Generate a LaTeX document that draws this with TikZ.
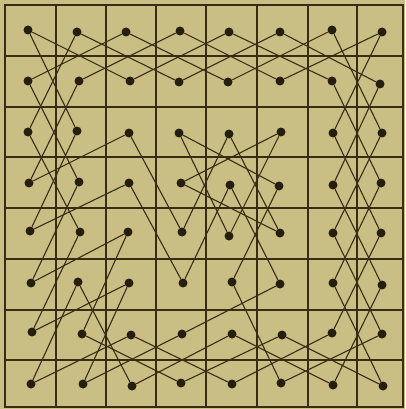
\documentclass[tikz,border=0pt]{standalone}
\usepackage{tikz}
\definecolor{paper}{RGB}{201,191,133}
\definecolor{ink}{RGB}{58,44,20}
\definecolor{peg}{RGB}{38,30,14}
\tikzset{
  peghole/.style={circle,fill=peg,draw=none,inner sep=0pt,minimum size=9pt},
  gridline/.style={draw=ink,line width=1.7pt},
  borderline/.style={draw=ink,line width=2.6pt},
  move/.style={draw=ink,line width=1.1pt}
}
\begin{document}
\begin{tikzpicture}[x=1pt,y=-1pt]
\fill[paper] (0,0) rectangle (405,409);
\useasboundingbox (0,0) rectangle (405,409);
% grid
\foreach \gx in {56,106,156,206,257,308,357}{\draw[gridline] (\gx,5) -- (\gx,407);}
\foreach \gy in {56,107,157,208,259,310,360}{\draw[gridline] (5,\gy) -- (403,\gy);}
\draw[borderline] (5,5) rectangle (403,407);
% pegs (row, column)
\node[peghole] (n11) at (28,30) {};
\node[peghole] (n12) at (77,32) {};
\node[peghole] (n13) at (126,32) {};
\node[peghole] (n14) at (180,31) {};
\node[peghole] (n15) at (229,32) {};
\node[peghole] (n16) at (280,32) {};
\node[peghole] (n17) at (332,30) {};
\node[peghole] (n18) at (382,32) {};
\node[peghole] (n21) at (28,81) {};
\node[peghole] (n22) at (79,81) {};
\node[peghole] (n23) at (130,81) {};
\node[peghole] (n24) at (179,82) {};
\node[peghole] (n25) at (228,82) {};
\node[peghole] (n26) at (280,81) {};
\node[peghole] (n27) at (332,81) {};
\node[peghole] (n28) at (380,84) {};
\node[peghole] (n31) at (28,132) {};
\node[peghole] (n32) at (77,131) {};
\node[peghole] (n33) at (129,133) {};
\node[peghole] (n34) at (179,133) {};
\node[peghole] (n35) at (229,134) {};
\node[peghole] (n36) at (281,132) {};
\node[peghole] (n37) at (333,133) {};
\node[peghole] (n38) at (382,133) {};
\node[peghole] (n41) at (29,183) {};
\node[peghole] (n42) at (79,182) {};
\node[peghole] (n43) at (129,183) {};
\node[peghole] (n44) at (181,183) {};
\node[peghole] (n45) at (230,185) {};
\node[peghole] (n46) at (279,186) {};
\node[peghole] (n47) at (333,185) {};
\node[peghole] (n48) at (381,183) {};
\node[peghole] (n51) at (30,231) {};
\node[peghole] (n52) at (80,232) {};
\node[peghole] (n53) at (128,232) {};
\node[peghole] (n54) at (182,232) {};
\node[peghole] (n55) at (229,236) {};
\node[peghole] (n56) at (280,233) {};
\node[peghole] (n57) at (333,233) {};
\node[peghole] (n58) at (381,233) {};
\node[peghole] (n61) at (31,283) {};
\node[peghole] (n62) at (78,282) {};
\node[peghole] (n63) at (129,283) {};
\node[peghole] (n64) at (183,283) {};
\node[peghole] (n65) at (232,282) {};
\node[peghole] (n66) at (280,284) {};
\node[peghole] (n67) at (333,283) {};
\node[peghole] (n68) at (382,285) {};
\node[peghole] (n71) at (32,332) {};
\node[peghole] (n72) at (82,334) {};
\node[peghole] (n73) at (131,335) {};
\node[peghole] (n74) at (182,334) {};
\node[peghole] (n75) at (232,334) {};
\node[peghole] (n76) at (282,335) {};
\node[peghole] (n77) at (332,333) {};
\node[peghole] (n78) at (382,334) {};
\node[peghole] (n81) at (31,384) {};
\node[peghole] (n82) at (83,384) {};
\node[peghole] (n83) at (132,386) {};
\node[peghole] (n84) at (181,383) {};
\node[peghole] (n85) at (232,384) {};
\node[peghole] (n86) at (281,383) {};
\node[peghole] (n87) at (333,385) {};
\node[peghole] (n88) at (383,386) {};
% knight moves
\foreach \a/\b in {
  n11/n23, n21/n13, n12/n24, n22/n14, n13/n25, n23/n15, n14/n26, n24/n16,
  n15/n27, n25/n17, n16/n28, n26/n18,
  n11/n32, n12/n31, n21/n42, n22/n41, n31/n52, n32/n51,
  n41/n33, n51/n43, n61/n53, n61/n42, n53/n72, n52/n71, n63/n71, n63/n82,
  n62/n81, n62/n83,
  n81/n73, n72/n84, n82/n74, n73/n85, n83/n75, n84/n76, n75/n87, n85/n77,
  n76/n88, n86/n78,
  n74/n66, n65/n86,
  n17/n38, n18/n37, n27/n48, n28/n47, n37/n58, n38/n57, n47/n68, n48/n67,
  n57/n78, n58/n77, n67/n88, n68/n87,
  n64/n43, n64/n45, n66/n45, n34/n46, n33/n54, n35/n54, n34/n55, n35/n56,
  n36/n44, n36/n55, n44/n56, n46/n65}
  {\draw[move] (\a) -- (\b);}
\end{tikzpicture}
\end{document}
